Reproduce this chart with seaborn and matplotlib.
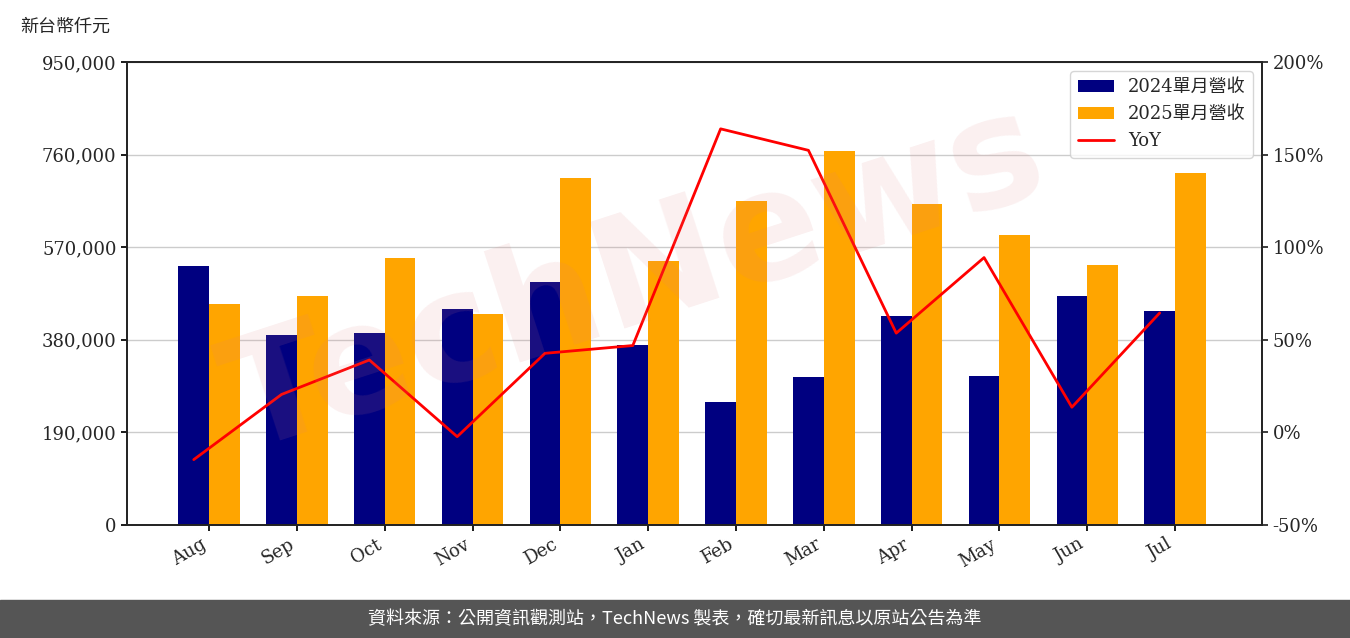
import matplotlib
matplotlib.use("Agg")
import matplotlib.pyplot as plt
import seaborn as sns
import pandas as pd
import numpy as np

months = ["Aug","Sep","Oct","Nov","Dec","Jan","Feb","Mar","Apr","May","Jun","Jul"]
rev2024 = [531000,390000,394000,443000,499000,369000,252000,304000,429000,306000,470000,439000]
rev2025 = [453000,470000,548000,433000,712000,542000,665000,767000,659000,595000,534000,722000]
yoy = [-14.7,20.5,39.1,-2.3,42.7,46.9,163.9,152.3,53.6,94.4,13.6,64.5]
label24 = "2024單月營收"
label25 = "2025單月營收"

sns.set_theme(style="white")
plt.rcParams['font.family'] = ['DejaVu Serif', 'Noto Sans CJK TC']

fig = plt.figure(figsize=(13.5, 6.38), dpi=100)
ax = fig.add_axes([127/1350, 1-525/638, (1262-127)/1350, (525-62)/638])

df = pd.DataFrame({"month": months*2, "rev": rev2024+rev2025,
                   "series": [label24]*12 + [label25]*12})
sns.barplot(data=df, x="month", y="rev", hue="series", order=months,
            palette=["#000080", "#FFA500"], width=0.7, saturation=1, ax=ax,
            linewidth=0, edgecolor="none")
ax.set_ylim(0, 950000)
ax.set_yticks([0,190000,380000,570000,760000,950000])
ax.set_yticklabels([f"{v:,}" for v in [0,190000,380000,570000,760000,950000]], fontsize=13)
ax.yaxis.grid(True, color="#cccccc", linewidth=1)
ax.set_axisbelow(True)
ax.set_xlabel(""); ax.set_ylabel("")
ax.set_xlim(-0.935, 11.99)
for lbl in ax.get_xticklabels():
    lbl.set_rotation(30); lbl.set_ha("right"); lbl.set_fontsize(13)
for s in ax.spines.values():
    s.set_color("black"); s.set_linewidth(1.2)
ax.tick_params(axis="both", length=4, color="black", left=True, bottom=True)
h1, l1 = ax.get_legend_handles_labels()
if ax.get_legend() is not None:
    ax.get_legend().remove()

ax2 = ax.twinx()
sns.lineplot(x=np.arange(12) - 0.175, y=yoy, color="red", linewidth=2, ax=ax2, label="YoY")
ax2.set_xlim(-0.935, 11.99)
ax2.set_ylim(-50, 200)
ax2.set_yticks([-50,0,50,100,150,200])
ax2.set_yticklabels([f"{v}%" for v in [-50,0,50,100,150,200]], fontsize=13)
ax2.tick_params(axis="y", length=4, right=True)
h2, l2 = ax2.get_legend_handles_labels()
ax2.get_legend().remove()

ax2.legend(h1+h2, l1+l2, loc="upper right", frameon=True,
           prop={'family': ['DejaVu Serif', 'Noto Sans CJK TC'], 'size': 13})

fig.text(20/1350, 1-27/638, "新台幣仟元", fontsize=13, va="center",
         family=['Noto Sans CJK TC'])
fig.text(0.47, 0.56, "TechNews", fontsize=110, color="#e08080", alpha=0.12,
         rotation=18, ha="center", va="center", family="DejaVu Sans", weight="bold")

fig.patches.append(plt.Rectangle((0, 0), 1, 38/638, transform=fig.transFigure,
                                 color="#555555", zorder=-1))
fig.text(0.5, 19/638, "資料來源：公開資訊觀測站，TechNews 製表，確切最新訊息以原站公告為準",
         color="white", fontsize=13, ha="center", va="center",
         family=['Noto Sans CJK TC', 'DejaVu Sans'])

fig.savefig("out.png", dpi=100)
